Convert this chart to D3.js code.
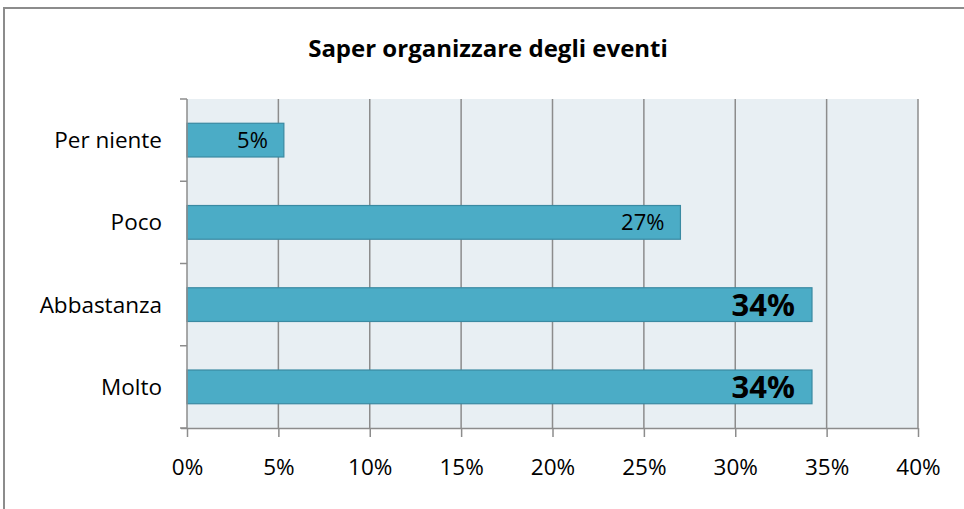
<!DOCTYPE html>
<html><head><meta charset="utf-8">
<script src="https://cdn.jsdelivr.net/npm/d3@7"></script>
<style>body{margin:0;background:#fff}svg{display:block}text{font-family:"Open Sans","Noto Sans",sans-serif}</style>
</head><body><svg id="c" width="964" height="509"></svg>
<script>
const title = "Saper organizzare degli eventi";
const categories = ["Per niente", "Poco", "Abbastanza", "Molto"];
const values = [0.053, 0.27, 0.342, 0.342];
const labels = ["5%", "27%", "34%", "34%"];
const labelBold = [false, false, true, true];
const xTicks = [0, 0.05, 0.10, 0.15, 0.20, 0.25, 0.30, 0.35, 0.40];

const svg = d3.select("#c");
const W = 964, H = 509;
const m = {left: 187, right: 964 - 918, top: 99, bottom: 509 - 428};

svg.append("rect").attr("x", 4).attr("y", 8).attr("width", W + 10).attr("height", H + 10)
  .attr("fill", "#fff").attr("stroke", "#8c8c8c").attr("stroke-width", 2);

svg.append("text").attr("x", 488).attr("y", 57).attr("text-anchor", "middle")
  .attr("font-size", 24).attr("font-weight", "bold").attr("fill", "#000").text(title);

const x = d3.scaleLinear().domain([0, 0.40]).range([m.left, W - m.right]);
const y = d3.scaleBand().domain(categories).range([m.top, H - m.bottom]).paddingInner(0.59).paddingOuter(0.295);
const yb = d3.scaleBand().domain(categories).range([m.top, H - m.bottom]);

svg.append("rect").attr("x", x(0)).attr("y", m.top).attr("width", x(0.40) - x(0)).attr("height", H - m.bottom - m.top)
  .attr("fill", "#e8eff3");

svg.append("g").selectAll("line").data(xTicks.slice(1)).join("line")
  .attr("x1", d => x(d)).attr("x2", d => x(d)).attr("y1", m.top).attr("y2", H - m.bottom)
  .attr("stroke", "#8c8c8c").attr("stroke-width", 1.5);

svg.append("g").selectAll("rect").data(categories).join("rect")
  .attr("x", x(0)).attr("y", d => y(d)).attr("width", (d, i) => x(values[i]) - x(0)).attr("height", y.bandwidth())
  .attr("fill", "#4bacc6").attr("stroke", "#3a8aa2").attr("stroke-width", 1.2);

svg.append("g").selectAll("text").data(categories).join("text")
  .attr("x", (d, i) => x(values[i]) - (labelBold[i] ? 17 : 16))
  .attr("y", d => y(d) + y.bandwidth() / 2)
  .attr("dy", "0.36em")
  .attr("text-anchor", "end")
  .attr("font-size", (d, i) => labelBold[i] ? 31 : 22)
  .attr("font-weight", (d, i) => labelBold[i] ? "bold" : "normal")
  .text((d, i) => labels[i]);

const xAxis = d3.axisBottom(x).tickValues(xTicks).tickFormat(d3.format(".0%")).tickSize(9).tickPadding(22);
const gx = svg.append("g").attr("transform", `translate(0,${H - m.bottom})`).call(xAxis);
gx.select(".domain").attr("stroke", "#8c8c8c").attr("stroke-width", 1.5).attr("d", `M${x(0) - 6},0.5H${x(0.40)}`);
gx.selectAll(".tick line").attr("stroke", "#8c8c8c").attr("stroke-width", 1.5);
gx.selectAll(".tick text").attr("font-size", 22.5).attr("fill", "#000").attr("font-family", '"Open Sans","Noto Sans",sans-serif');

const gy = svg.append("g").attr("transform", `translate(${m.left},0)`);
gy.append("line").attr("x1", 0).attr("x2", 0).attr("y1", m.top).attr("y2", H - m.bottom).attr("stroke", "#8c8c8c").attr("stroke-width", 1.5);
const bounds = categories.map(c => yb(c)).concat([H - m.bottom]);
gy.selectAll("line.t").data(bounds).join("line").attr("class", "t")
  .attr("x1", -7).attr("x2", 0).attr("y1", d => d).attr("y2", d => d).attr("stroke", "#8c8c8c").attr("stroke-width", 1.5);
gy.selectAll("text").data(categories).join("text")
  .attr("x", -25).attr("y", d => yb(d) + yb.bandwidth() / 2).attr("dy", "0.35em")
  .attr("text-anchor", "end").attr("font-size", 22.5).attr("fill", "#000").text(d => d);
</script></body></html>
